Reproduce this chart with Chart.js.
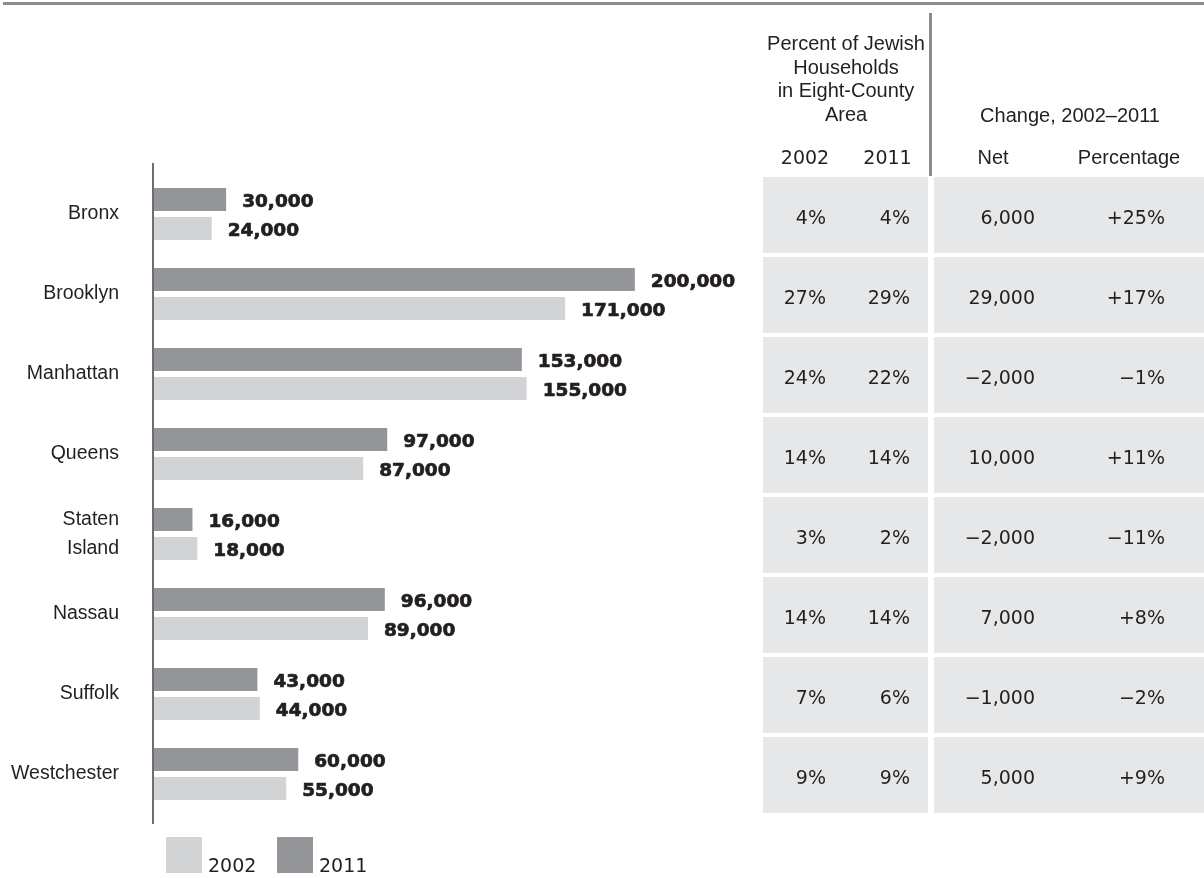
<!DOCTYPE html>
<html>
<head>
<meta charset="utf-8">
<script src="https://cdn.jsdelivr.net/npm/chart.js@4.4.1/dist/chart.umd.min.js"></script>
<style>
html,body{margin:0;padding:0;background:#fff;}
#wrap{position:relative;width:1204px;height:878px;}
canvas{display:block;}
</style>
</head>
<body>
<div id="wrap"><canvas id="c" width="1204" height="878"></canvas></div>
<script>
// ---- data ----
const counties = ['Bronx', 'Brooklyn', 'Manhattan', 'Queens', ['Staten', 'Island'], 'Nassau', 'Suffolk', 'Westchester'];
const households2011 = [30000, 200000, 153000, 97000, 16000, 96000, 43000, 60000];
const households2002 = [24000, 171000, 155000, 87000, 18000, 89000, 44000, 55000];
const share2002 = ['4%', '27%', '24%', '14%', '3%', '14%', '7%', '9%'];
const share2011 = ['4%', '29%', '22%', '14%', '2%', '14%', '6%', '9%'];
const netChange = ['6,000', '29,000', '\u22122,000', '10,000', '\u22122,000', '7,000', '\u22121,000', '5,000'];
const pctChange = ['+25%', '+17%', '\u22121%', '+11%', '\u221211%', '+8%', '\u22122%', '+9%'];
const shareHeader = ['Percent of Jewish', 'Households', 'in Eight-County', 'Area'];
const changeHeader = 'Change, 2002\u20132011';
const subHeaders = ['2002', '2011', 'Net', 'Percentage'];
const legendYears = ['2002', '2011'];

// ---- styles ----
const DARK = '#939598';
const LIGHT = '#d1d3d4';
const TEXT = '#231f20';
const RULE = '#8b8c8e';
const CELL = '#e6e7e8';
const SANS = '"Liberation Sans", Arial, sans-serif';
const NUM = '"DejaVu Sans", sans-serif';

const fmt = v => v.toLocaleString('en-US');

const valueLabels = {
  id: 'valueLabels',
  afterDatasetsDraw(chart) {
    const {ctx} = chart;
    ctx.save();
    ctx.font = 'bold 18.5px ' + NUM;
    ctx.fillStyle = TEXT;
    ctx.strokeStyle = TEXT;
    ctx.lineWidth = 0.7;
    ctx.lineJoin = 'round';
    ctx.textAlign = 'left';
    ctx.textBaseline = 'alphabetic';
    chart.data.datasets.forEach((ds, i) => {
      chart.getDatasetMeta(i).data.forEach((bar, j) => {
        const t = fmt(ds.data[j]);
        ctx.fillText(t, bar.x + 16, bar.y + 7.5);
        ctx.strokeText(t, bar.x + 16, bar.y + 7.5);
      });
    });
    ctx.restore();
  }
};

const decor = {
  id: 'decor',
  afterDraw(chart) {
    const {ctx, chartArea} = chart;
    const yS = chart.scales.y;
    ctx.save();
    // top rule
    ctx.fillStyle = RULE;
    ctx.fillRect(3, 2, 1201, 3);
    // axis line
    ctx.fillStyle = '#6d6e71';
    ctx.fillRect(chartArea.left - 2, chartArea.top - 11, 2, chartArea.bottom - chartArea.top + 21);

    // legend
    const dsByLabel = {};
    chart.data.datasets.forEach(d => dsByLabel[d.label] = d);
    const legX = [166, 277];
    ctx.font = '19px ' + NUM;
    ctx.textBaseline = 'alphabetic';
    ctx.textAlign = 'left';
    legendYears.forEach((yr, k) => {
      ctx.fillStyle = dsByLabel[yr].backgroundColor;
      ctx.fillRect(legX[k], 837, 36, 36);
      ctx.fillStyle = TEXT;
      ctx.fillText(yr, legX[k] + 42, 872);
    });

    // table header
    ctx.fillStyle = RULE;
    ctx.fillRect(929, 13, 3, 163);
    ctx.fillStyle = TEXT;
    ctx.textAlign = 'center';
    ctx.font = '20px ' + SANS;
    shareHeader.forEach((t, k) => ctx.fillText(t, 846, 50 + 23.6 * k));
    ctx.fillText(changeHeader, 1070, 121.5);
    ctx.font = '19px ' + NUM;
    ctx.fillText(subHeaders[0], 805, 164);
    ctx.fillText(subHeaders[1], 887.5, 164);
    ctx.font = '20px ' + SANS;
    ctx.fillText(subHeaders[2], 993, 164);
    ctx.fillText(subHeaders[3], 1129, 164);

    // table cells
    counties.forEach((c, i) => {
      const cy = yS.getPixelForValue(i);
      ctx.fillStyle = CELL;
      ctx.fillRect(763, cy - 37, 165, 76);
      ctx.fillRect(934, cy - 37, 270, 76);
      ctx.fillStyle = '#e8e9ea';
      ctx.fillRect(847, cy - 37, 1, 76);
      ctx.fillRect(1069, cy - 37, 1, 76);
      ctx.fillStyle = TEXT;
      ctx.font = '19px ' + NUM;
      ctx.textAlign = 'right';
      ctx.fillText(share2002[i], 826, cy + 10);
      ctx.fillText(share2011[i], 910, cy + 10);
      ctx.fillText(netChange[i], 1035, cy + 10);
      ctx.fillText(pctChange[i], 1165, cy + 10);
    });
    ctx.restore();
  }
};

new Chart(document.getElementById('c'), {
  type: 'bar',
  data: {
    labels: counties,
    datasets: [
      {label: '2011', data: households2011, backgroundColor: DARK},
      {label: '2002', data: households2002, backgroundColor: LIGHT}
    ]
  },
  options: {
    indexAxis: 'y',
    responsive: false,
    animation: false,
    events: [],
    categoryPercentage: 0.725,
    barPercentage: 0.793,
    layout: {padding: {top: 174, bottom: 64, left: 0, right: 473}},
    scales: {
      x: {display: false, min: 0, max: 240000},
      y: {
        grid: {display: false, drawTicks: false, drawOnChartArea: false},
        border: {display: false},
        ticks: {
          color: TEXT,
          padding: 35,
          font: {family: SANS, size: 19.5, lineHeight: 1.46}
        },
        afterFit(s) { s.width = 154; }
      }
    },
    plugins: {legend: {display: false}, tooltip: {enabled: false}}
  },
  plugins: [valueLabels, decor]
});
</script>
</body>
</html>
